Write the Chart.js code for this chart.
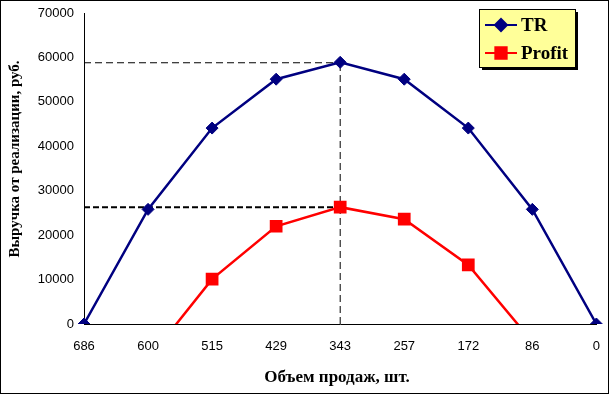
<!DOCTYPE html>
<html>
<head>
<meta charset="utf-8">
<script src="https://cdn.jsdelivr.net/npm/chart.js@4.4.0/dist/chart.umd.min.js"></script>
<style>
  body { margin: 0; background: #fff; }
  #wrap { width: 609px; height: 394px; }
</style>
</head>
<body>
<div id="wrap"><canvas id="chartTR"></canvas></div>
<script>
const labels = ['686', '600', '515', '429', '343', '257', '172', '86', '0'];
const trValues = [0, 25800, 44100, 55100, 58900, 55100, 44100, 25800, 0];
const profitValues = [null, -8000, 10100, 22000, 26300, 23600, 13300, -4000, null];
const peakLabel = '343';
const trPeak = 58800;
const profitPeak = 26300;
const yTicks = [0, 10000, 20000, 30000, 40000, 50000, 60000, 70000];
const yTitle = 'Выручка от реализации, руб.';
const xTitle = 'Объем продаж, шт.';

// dashed guides: from the y axis to the peak category
const peakIndex = labels.indexOf(peakLabel);
const trGuide = labels.map((l, i) => i <= peakIndex ? trPeak : null);
const profitGuide = labels.map((l, i) => i <= peakIndex ? profitPeak : null);

const frame = {
    id: 'frame',
    afterDraw(chart) {
        const ctx = chart.ctx;
        ctx.save();
        // outer border
        ctx.strokeStyle = '#000';
        ctx.lineWidth = 1;
        ctx.strokeRect(0.5, 0.5, 608, 393);

        // axis titles
        ctx.fillStyle = '#000';
        ctx.textAlign = 'center';
        ctx.textBaseline = 'middle';
        ctx.font = 'bold 15px "Liberation Serif"';
        ctx.save();
        ctx.translate(15, 159);
        ctx.rotate(-Math.PI / 2);
        ctx.fillText(yTitle, 0, 0);
        ctx.restore();
        ctx.font = 'bold 17px "Liberation Serif"';
        ctx.fillText(xTitle, 337, 378);

        // legend box with shadow
        const x = 479, y = 9, w = 96, h = 58;
        ctx.fillStyle = '#000';
        ctx.fillRect(x + 3, y + 3, w, h);
        ctx.fillStyle = '#FFFF99';
        ctx.fillRect(x, y, w, h);
        ctx.strokeRect(x + 0.5, y + 0.5, w, h);

        const rows = [
            {text: 'TR', color: '#000080', shape: 'rectRot', r: 6, cy: 25},
            {text: 'Profit', color: '#FF0000', shape: 'rect', r: 8, cy: 53}
        ];
        ctx.textAlign = 'left';
        rows.forEach(row => {
            ctx.strokeStyle = row.color;
            ctx.lineWidth = 2;
            ctx.beginPath();
            ctx.moveTo(485, row.cy);
            ctx.lineTo(517, row.cy);
            ctx.stroke();
            ctx.fillStyle = row.color;
            Chart.helpers.drawPoint(ctx, {pointStyle: row.shape, radius: row.r, borderWidth: 1}, 501, row.cy);
            ctx.fill();
            ctx.fillStyle = '#000';
            ctx.font = 'bold 19px "Liberation Serif"';
            ctx.textBaseline = 'middle';
            ctx.fillText(row.text, 521, row.cy + 1);
        });
        ctx.restore();
    }
};

const data = {
    labels,
    datasets: [
        {
            label: 'TR',
            data: trValues,
            borderColor: '#000080',
            backgroundColor: '#000080',
            borderWidth: 2.5,
            pointStyle: 'rectRot',
            pointRadius: 6,
            pointBorderWidth: 1,
            order: 1
        },
        {
            label: 'Profit',
            data: profitValues,
            borderColor: '#FF0000',
            backgroundColor: '#FF0000',
            borderWidth: 2.5,
            pointStyle: 'rect',
            pointRadius: 9,
            pointBorderWidth: 0,
            order: 2
        },
        {
            label: 'trGuide',
            data: trGuide,
            borderColor: '#000',
            borderWidth: 1,
            borderDash: [7, 4],
            pointRadius: 0,
            order: 5
        },
        {
            label: 'profitGuide',
            data: profitGuide,
            borderColor: '#000',
            borderWidth: 2,
            borderDash: [6, 3],
            pointRadius: 0,
            order: 5
        },
        {
            label: 'peakGuide',
            data: [{x: peakLabel, y: 0}, {x: peakLabel, y: trPeak}],
            borderColor: '#000',
            borderWidth: 1,
            borderDash: [7, 4],
            pointRadius: 0,
            order: 5
        }
    ]
};

const config = {
    type: 'line',
    data,
    plugins: [frame],
    options: {
        responsive: true,
        maintainAspectRatio: false,
        animation: false,
        layout: {padding: {top: 13, right: 12, bottom: 0, left: 0}},
        elements: {line: {tension: 0}},
        scales: {
            x: {
                offset: false,
                grid: {display: false, drawOnChartArea: false, tickLength: 6, color: '#000'},
                border: {color: '#000', width: 1},
                ticks: {color: '#000', font: {family: 'Liberation Sans', size: 13}, padding: 9, maxRotation: 0, autoSkip: false},
                afterFit(scale) { scale.height = 70; }
            },
            y: {
                min: 0,
                max: 70000,
                afterBuildTicks(scale) { scale.ticks = yTicks.map(v => ({value: v})); },
                grid: {display: false, drawOnChartArea: false, tickLength: 5, color: '#000'},
                border: {color: '#000', width: 1},
                ticks: {
                    color: '#000',
                    font: {family: 'Liberation Sans', size: 13},
                    padding: 5,
                    callback: v => String(v)
                },
                afterFit(scale) { scale.width = 84; }
            }
        },
        plugins: {
            legend: {display: false},
            tooltip: {enabled: false}
        }
    }
};

new Chart(document.getElementById('chartTR'), config);
</script>
</body>
</html>
